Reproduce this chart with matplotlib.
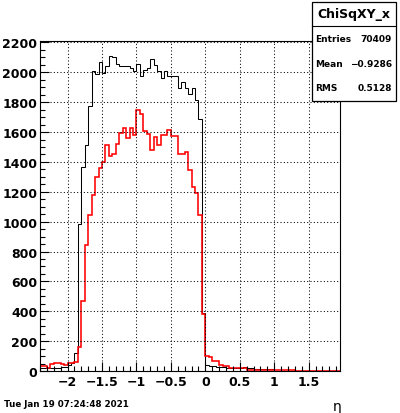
import matplotlib
matplotlib.use("Agg")
import matplotlib.pyplot as plt
from matplotlib.patches import Rectangle
from matplotlib.lines import Line2D
from matplotlib.ticker import MultipleLocator, FuncFormatter
import numpy as np

# histogram binning (eta), 88 bins of 0.05
eta_lo = -2.4
eta_width = 0.05

# black histogram (all entries)
counts_all = [22, 20, 18, 20, 22, 22, 25, 27, 40, 53,
              122, 982, 1367, 1515, 1773, 2007, 1989, 2067, 1993, 2044,
              2107, 2100, 2055, 2040, 2044, 2040, 2030, 2011, 2055, 1977,
              2018, 2027, 2089, 2050, 2011, 1960, 2011, 1973, 1973, 1973,
              1893, 1937, 1893, 1855, 1893, 1817, 1689, 389, 40, 33,
              33, 30, 27, 27, 22, 22, 22, 22, 22, 27,
              22, 22, 15, 15, 15, 15, 15, 15, 1, 1,
              1, 1, 1, 1, 1, 1, 1, 1, 1, 1,
              1, 1, 1, 1, 1, 1, 1, 1]

# red histogram (selected)
counts_sel = [31, 31, 22, 44, 51, 53, 45, 38, 51, 53,
              60, 160, 467, 844, 1044, 1178, 1300, 1360, 1400, 1511,
              1440, 1455, 1522, 1593, 1627, 1560, 1627, 1578, 1751, 1722,
              1604, 1589, 1478, 1567, 1515, 1582, 1578, 1611, 1575, 1575,
              1455, 1455, 1470, 1349, 1233, 1189, 1044, 382, 100, 93,
              67, 67, 40, 31, 31, 22, 22, 22, 18, 18,
              10, 9, 9, 8, 8, 7, 7, 6, 6, 5,
              5, 5, 4, 4, 3, 3, 3, 0, 0, 0,
              0, 0, 0, 0, 0, 0, 0, 0]

stat_names = ["Entries", "Mean", "RMS"]
stat_values = ["70409", "\u22120.9286", "0.5128"]

edges = eta_lo + eta_width * np.arange(len(counts_all) + 1)

plt.rcParams['font.family'] = ['DejaVu Sans']
plt.rcParams['font.weight'] = 'bold'

fig = plt.figure(figsize=(4, 4.14), dpi=100)
ax = fig.add_axes([0.1, 0.1014, 0.75, 0.798])

ax.stairs(counts_all, edges, baseline=None, color='black', lw=0.75)
ax.stairs(counts_sel, edges, baseline=None, color='red', lw=1.15)

ax.set_xlim(-2.4, 1.955)
ax.set_ylim(0, 1.05 * max(counts_all))

ax.xaxis.set_major_locator(MultipleLocator(0.5))
ax.xaxis.set_minor_locator(MultipleLocator(0.1))
ax.yaxis.set_major_locator(MultipleLocator(200))
ax.yaxis.set_minor_locator(MultipleLocator(50))

def fmt(v, pos):
    s = ('%g' % round(v, 3))
    return s.replace('-', '\u2212')

ax.xaxis.set_major_formatter(FuncFormatter(fmt))
ax.yaxis.set_major_formatter(FuncFormatter(fmt))

ax.tick_params(which='both', direction='in', top=False, right=False, width=0.8)
ax.tick_params(which='major', length=6.5, labelsize=9, pad=3)
ax.tick_params(which='minor', length=3.3)
ax.tick_params(axis='y', which='major', pad=2)
for lab in ax.get_xticklabels() + ax.get_yticklabels():
    lab.set_fontweight('bold')

ax.grid(True, which='major', color='black', lw=0.75, linestyle=(0, (1, 2.2)))
for s in ax.spines.values():
    s.set_linewidth(0.8)

# stats box
fig.patches.append(Rectangle((0.781, 0.7543), 0.209, 0.2377, transform=fig.transFigure,
                             facecolor='white', edgecolor='black', lw=0.9, zorder=5))
fig.lines.append(Line2D([0.781, 0.99], [0.9355, 0.9355], transform=fig.transFigure,
                        color='black', lw=0.8, zorder=6))
fig.text(0.885, 0.9638, "ChiSqXY_x", ha='center', va='center', fontsize=9,
         fontweight='bold', zorder=7)
for n, (name, val) in enumerate(zip(stat_names, stat_values)):
    yy = 0.9034 - n * 0.058
    fig.text(0.7875, yy, name, ha='left', va='center', fontsize=6.5, fontweight='bold', zorder=7)
    fig.text(0.98, yy, val, ha='right', va='center', fontsize=6.5, fontweight='bold', zorder=7)

fig.text(0.01, 0.022, "Tue Jan 19 07:24:48 2021", ha='left', va='center',
         fontsize=6.3, fontweight='bold')
fig.text(0.843, 0.016, "\u03b7", ha='center', va='center', fontsize=10, fontweight='normal')

fig.savefig('out.png', dpi=100)
